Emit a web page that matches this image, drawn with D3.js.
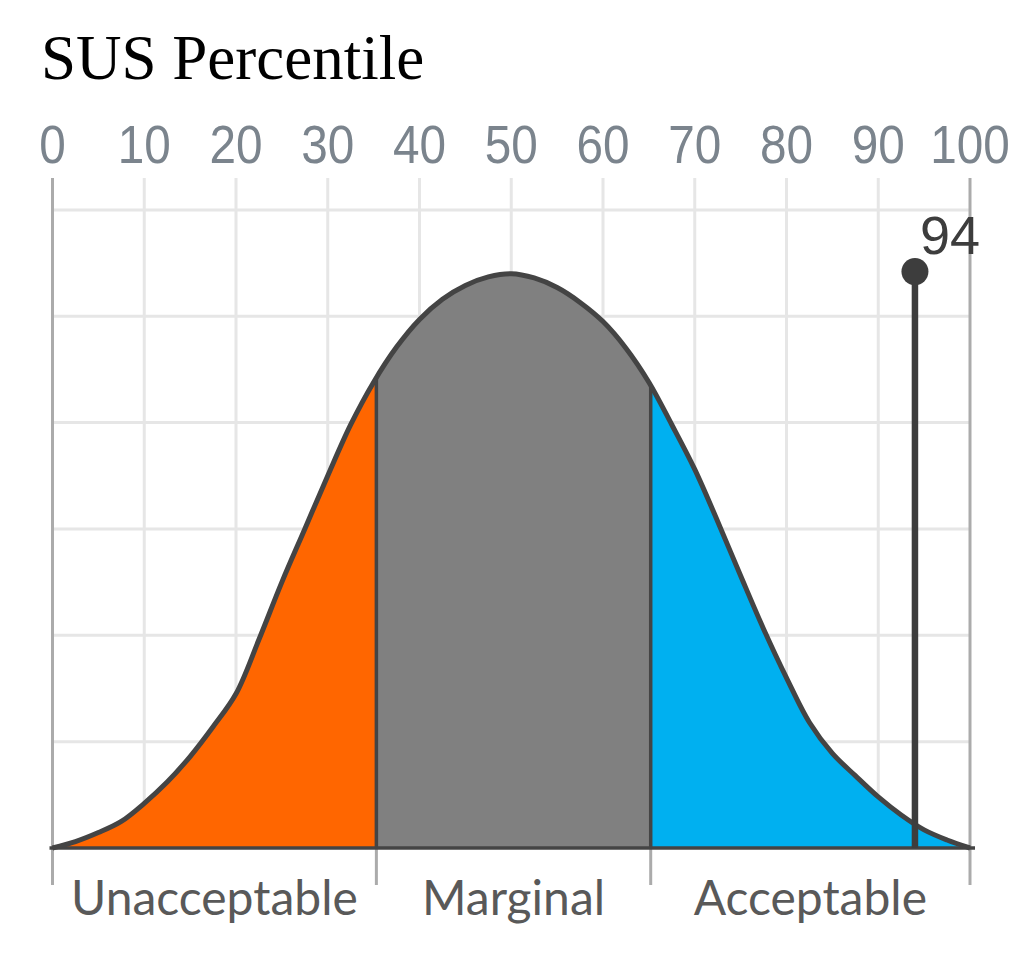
<!DOCTYPE html>
<html><head><meta charset="utf-8">
<script src="https://cdn.jsdelivr.net/npm/d3@7"></script>
<style>html,body{margin:0;padding:0;background:#fff;}svg{display:block;}</style>
</head><body>
<svg id="chart" width="1024" height="962"></svg>
<script>
// ---- data ----
const title = "SUS Percentile";
const xTicks = [0,10,20,30,40,50,60,70,80,90,100];
const yGrid = [1,2,3,4,5,6];
const curveX = [0,2.5,5,7.5,10,12.5,15,17.5,20,22.5,25,27.5,30,32.5,35,37.5,40,42.5,45,47.5,50,
  52.5,55,57.5,60,62.5,65,67.5,70,72.5,75,77.5,80,82.5,85,87.5,90,92.5,95,97.5,100];
const curveY = [0,0.06,0.145,0.25,0.42,0.62,0.86,1.14,1.45,1.96,2.50,3.00,3.50,3.98,4.38,4.71,4.97,5.16,5.29,5.37,5.40,
  5.36,5.27,5.13,4.95,4.70,4.38,3.98,3.56,3.07,2.56,2.06,1.60,1.18,0.89,0.68,0.48,0.31,0.17,0.075,0];
const segNames = ["Unacceptable","Marginal","Acceptable"];
const segBounds = [0,35.3,65.2,100];
const segColors = ["#FF6600","#808080","#00B0F0"];
const markerValue = 94;
const markerHeight = 5.42;

// ---- layout ----
const svg = d3.select("#chart");
const x = d3.scaleLinear().domain([0,100]).range([52.5,970]);
const y = d3.scaleLinear().domain([0,6.3]).range([848,178]);
const pts = curveX.map((v,i)=>[v,curveY[i]]);
const curveType = d3.curveCatmullRom.alpha(0.5);

svg.append("text").attr("x",41).attr("y",79)
  .attr("font-family","'Liberation Serif','DejaVu Serif',serif").attr("font-size",63)
  .attr("fill","#000").text(title);

// gridlines
const g = svg.append("g");
g.selectAll(".hg").data(yGrid).join("line")
  .attr("x1",x(0)).attr("x2",x(100)).attr("y1",d=>y(d)).attr("y2",d=>y(d))
  .attr("stroke","#e6e6e6").attr("stroke-width",3);
g.selectAll(".vg").data(xTicks.slice(1,-1)).join("line")
  .attr("x1",d=>x(d)).attr("x2",d=>x(d)).attr("y1",y(6.3)).attr("y2",y(0))
  .attr("stroke","#e6e6e6").attr("stroke-width",3);
// outer axis lines
g.selectAll(".ol").data([0,100]).join("line")
  .attr("x1",d=>x(d)).attr("x2",d=>x(d)).attr("y1",y(6.3)).attr("y2",885)
  .attr("stroke","#ababab").attr("stroke-width",3);
// bottom segment ticks
g.selectAll(".bt").data(segBounds.slice(1,-1)).join("line")
  .attr("x1",d=>x(d)).attr("x2",d=>x(d)).attr("y1",y(0)).attr("y2",885)
  .attr("stroke","#ababab").attr("stroke-width",3);

// top tick labels
svg.append("g").selectAll("text").data(xTicks).join("text")
  .attr("transform",d=>`translate(${x(d)},163) scale(0.9,1)`)
  .attr("text-anchor","middle")
  .attr("font-family","'Liberation Sans',Arial,sans-serif").attr("font-size",53)
  .attr("fill","#7b848d").text(d=>d);

// areas
const area = d3.area().x(d=>x(d[0])).y0(y(0)).y1(d=>y(d[1])).curve(curveType);
const line = d3.line().x(d=>x(d[0])).y(d=>y(d[1])).curve(curveType);
const defs = svg.append("defs");
segColors.forEach((c,i)=>{
  defs.append("clipPath").attr("id","seg"+i).append("rect")
    .attr("x",x(segBounds[i])).attr("y",0)
    .attr("width",x(segBounds[i+1])-x(segBounds[i])).attr("height",y(0)+2);
});
defs.append("clipPath").attr("id","shape").append("path").attr("d",area(pts));
segColors.forEach((c,i)=>{
  svg.append("path").attr("d",area(pts)).attr("fill",c).attr("clip-path",`url(#seg${i})`);
});
// dividers
svg.append("g").attr("clip-path","url(#shape)").selectAll("line")
  .data(segBounds.slice(1,-1)).join("line")
  .attr("x1",d=>x(d)).attr("x2",d=>x(d)).attr("y1",y(0)).attr("y2",y(6.3))
  .attr("stroke","#444").attr("stroke-width",3.5);
// baseline
svg.append("line").attr("x1",x(0)-3).attr("x2",x(100)+5).attr("y1",y(0)).attr("y2",y(0))
  .attr("stroke","#444").attr("stroke-width",3.5);
// curve
svg.append("path").attr("d",line(pts)).attr("fill","none")
  .attr("stroke","#444").attr("stroke-width",5).attr("stroke-linejoin","round");

// marker
svg.append("line").attr("x1",x(markerValue)).attr("x2",x(markerValue))
  .attr("y1",y(0)).attr("y2",y(markerHeight)).attr("stroke","#3d3d3d").attr("stroke-width",6.5);
svg.append("circle").attr("cx",x(markerValue)).attr("cy",y(markerHeight)).attr("r",13.5).attr("fill","#3d3d3d");
svg.append("text").attr("x",x(markerValue)+5).attr("y",254)
  .attr("font-family","'Liberation Sans',Arial,sans-serif").attr("font-size",54)
  .attr("fill","#3d3d3d").text(markerValue);

// segment labels
svg.append("g").selectAll("text").data(segNames).join("text")
  .attr("x",(d,i)=>(x(segBounds[i])+x(segBounds[i+1]))/2).attr("y",915)
  .attr("text-anchor","middle")
  .attr("font-family","Lato,'Open Sans',sans-serif").attr("font-size",48)
  .attr("fill","#595959").text(d=>d);
</script>
</body></html>
